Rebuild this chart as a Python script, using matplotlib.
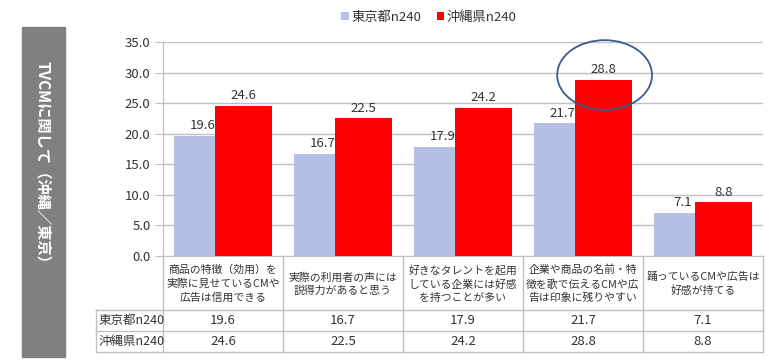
import matplotlib
matplotlib.use("Agg")
import matplotlib.pyplot as plt
from matplotlib.patches import Rectangle, Ellipse
from matplotlib.transforms import blended_transform_factory
import numpy as np

plt.rcParams['font.family'] = ['Noto Sans CJK JP', 'DejaVu Sans']

categories = [
    "商品の特徴（効用）を\n実際に見せているCMや\n広告は信用できる",
    "実際の利用者の声には\n説得力があると思う",
    "好きなタレントを起用\nしている企業には好感\nを持つことが多い",
    "企業や商品の名前・特\n徴を歌で伝えるCMや広\n告は印象に残りやすい",
    "踊っているCMや広告は\n好感が持てる",
]
series_names = ["東京都n240", "沖縄県n240"]
tokyo = [19.6, 16.7, 17.9, 21.7, 7.1]
okinawa = [24.6, 22.5, 24.2, 28.8, 8.8]
yticks = [0, 5, 10, 15, 20, 25, 30, 35]
side_title = "TVCMに関して（沖縄／東京）"

W, H = 775, 360
fig = plt.figure(figsize=(W / 100, H / 100), dpi=100)

def fx(px): return px / W
def fy(py): return 1 - py / H

ax_l, ax_r, ax_t, ax_b = 163, 763, 42, 256
ax = fig.add_axes([fx(ax_l), fy(ax_b), fx(ax_r - ax_l), (ax_b - ax_t) / H])

blue = "#B4C0E4"
red = "#FF0000"
txt = "#333333"
grid = "#BFBFBF"

x = np.arange(len(categories))
bw = 0.475
off = 0.17
b1 = ax.bar(x - off, tokyo, width=bw, color=blue, zorder=2)
b2 = ax.bar(x + off, okinawa, width=bw, color=red, zorder=3)
for xi, v in zip(x, tokyo):
    ax.text(xi - off, v + 0.6, f"{v:.1f}", ha="center", va="bottom", fontsize=9.5, color=txt, zorder=4)
for xi, v in zip(x, okinawa):
    ax.text(xi + off, v + 0.6, f"{v:.1f}", ha="center", va="bottom", fontsize=9.5, color=txt, zorder=4)

ax.set_xlim(-0.5, len(categories) - 0.5)
ax.set_ylim(0, 35)
ax.set_yticks(yticks)
ax.set_yticklabels([f"{t:.1f}" for t in yticks], fontsize=9.5, color=txt)
ax.set_xticks([])
ax.yaxis.grid(True, color=grid, linewidth=1, zorder=0)
ax.set_axisbelow(True)
for s in ["top", "right"]:
    ax.spines[s].set_visible(False)
ax.spines["left"].set_color(grid)
ax.spines["bottom"].set_color(grid)
ax.tick_params(axis="y", length=6, color=grid, pad=3)

imax = int(np.argmax(okinawa))
ax.add_patch(Ellipse((imax + off + 0.01, okinawa[imax] + 0.8), 0.79, 11.4, fill=False,
                     edgecolor="#3A5A8C", linewidth=1.3, zorder=5, clip_on=False))

ov = fig.add_axes([0, 0, 1, 1], zorder=-1)
ov.set_xlim(0, W)
ov.set_ylim(H, 0)
ov.axis("off")
ov.add_patch(Rectangle((22, 27), 43, 330, color="#808080", zorder=0))
fig.text(fx(43.5), fy(166), side_title, rotation=-90, ha="center", va="center",
         color="white", fontsize=11, fontweight="bold")

ov2 = fig.add_axes([0, 0, 1, 1])
ov2.set_xlim(0, W)
ov2.set_ylim(H, 0)
ov2.axis("off")
lc = "#BFBFBF"
r1, r2, r3 = 310, 331, 352
tab_left = 96
for yy in (r1, r2, r3):
    ov2.plot([tab_left, ax_r], [yy, yy], color=lc, lw=1)
ov2.plot([tab_left, tab_left], [r1, r3], color=lc, lw=1)
edges = np.linspace(ax_l, ax_r, len(categories) + 1)
for ex in edges:
    ov2.plot([ex, ex], [ax_b, r3], color=lc, lw=1)

tr = blended_transform_factory(ax.transData, fig.transFigure)
for xi, c in zip(x, categories):
    fig.text(xi, fy((ax_b + r1) / 2 + 1), c, transform=tr, ha="center", va="center",
             fontsize=7.8, color=txt, linespacing=1.4)
for xi, v in zip(x, tokyo):
    fig.text(xi, fy((r1 + r2) / 2), f"{v:.1f}", transform=tr, ha="center", va="center",
             fontsize=9.5, color=txt)
for xi, v in zip(x, okinawa):
    fig.text(xi, fy((r2 + r3) / 2), f"{v:.1f}", transform=tr, ha="center", va="center",
             fontsize=9.5, color=txt)
fig.text(fx(tab_left + 2), fy((r1 + r2) / 2), series_names[0], ha="left", va="center", fontsize=9, color=txt)
fig.text(fx(tab_left + 2), fy((r2 + r3) / 2), series_names[1], ha="left", va="center", fontsize=9, color=txt)

fig.legend([b1, b2], series_names, loc="center", bbox_to_anchor=(fx(429), fy(17)), ncol=2,
           frameon=False, handlelength=0.55, handleheight=0.55, handletextpad=0.2,
           columnspacing=1.2, fontsize=9.5, labelcolor=txt)

fig.savefig("out.png", dpi=100, facecolor="white")
